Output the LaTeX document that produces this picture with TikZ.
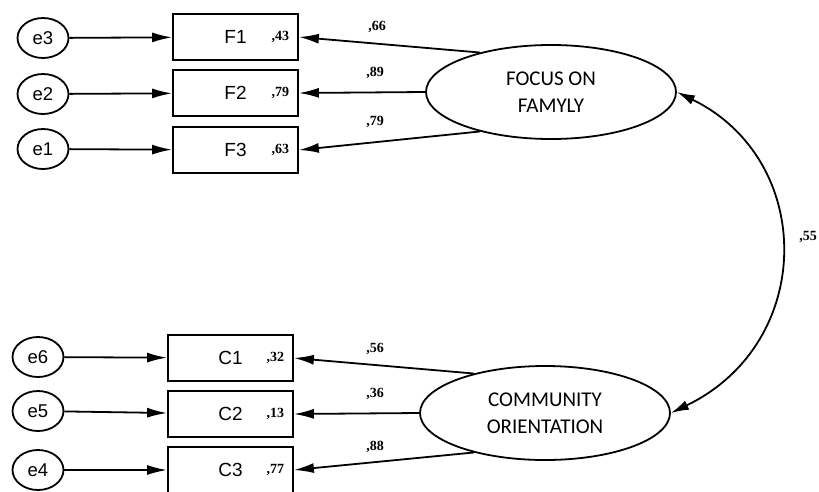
\documentclass[tikz,border=0pt]{standalone}
\usepackage{fontspec}
\usetikzlibrary{shapes.geometric,arrows.meta,calc}
\newfontfamily\arialf{Liberation Sans}
\newfontfamily\calibf{Carlito}
\newfontfamily\timesf{Liberation Serif}
\begin{document}
\begin{tikzpicture}[x=1pt,y=-1pt,line width=1.8pt,
  errnode/.style={draw,ellipse,minimum width=51pt,minimum height=40pt,inner sep=0pt,font=\arialf\fontsize{18.5}{20}\selectfont},
  obsbox/.style={draw,rectangle,minimum width=125pt,minimum height=46pt,inner sep=0pt,font=\arialf\fontsize{19}{21}\selectfont},
  latent/.style={draw,ellipse,minimum width=250pt,minimum height=94pt,inner sep=0pt,align=center,font=\calibf\fontsize{21}{27}\selectfont},
  rsq/.style={anchor=east,inner sep=0pt,font=\timesf\bfseries\fontsize{14}{16}\selectfont},
  load/.style={inner sep=0pt,font=\timesf\bfseries\fontsize{14}{16}\selectfont},
  arr/.style={-{Latex[length=20pt,width=10pt]}},
  darr/.style={{Latex[length=18pt,width=10pt]}-{Latex[length=18pt,width=10pt]}}
]
\useasboundingbox (0,0) rectangle (819,491);
\clip (0,0) rectangle (819,491);

% top group
\node[errnode] (e3) at (43,38) {e3};
\node[errnode] (e2) at (43,94) {e2};
\node[errnode] (e1) at (43,149) {e1};
\node[obsbox] (F1) at (235.5,37) {F1};
\node[obsbox] (F2) at (235.5,93) {F2};
\node[obsbox] (F3) at (235.5,150) {F3};
\node[rsq] (r1) at ($(F1.east)+(-9,0)$) {,43};
\node[rsq] (r2) at ($(F2.east)+(-9,0)$) {,79};
\node[rsq] (r3) at ($(F3.east)+(-9,0)$) {,63};
\node[latent] (FF) at (551,92) {FOCUS ON\\FAMYLY};

\draw[arr] (e3) -- (F1);
\draw[arr] (e2) -- (F2);
\draw[arr] (e1) -- (F3);
\draw[arr] (FF.151) -- (F1.east);
\draw[arr] (FF.west) -- (F2.east);
\draw[arr] (FF.209) -- (F3.east);
\node[load] (l1) at (377,27) {,66};
\node[load] (l2) at (375,73) {,89};
\node[load] (l3) at (375,122) {,79};

% bottom group
\node[errnode] (e6) at (38,357) {e6};
\node[errnode] (e5) at (38,411) {e5};
\node[errnode] (e4) at (38,470) {e4};
\node[obsbox] (C1) at (230.5,358) {C1};
\node[obsbox] (C2) at (230.5,414) {C2};
\node[obsbox] (C3) at (230.5,470) {C3};
\node[rsq] (r4) at ($(C1.east)+(-9,0)$) {,32};
\node[rsq] (r5) at ($(C2.east)+(-9,0)$) {,13};
\node[rsq] (r6) at ($(C3.east)+(-9,0)$) {,77};
\node[latent] (CO) at (545,413) {COMMUNITY\\ORIENTATION};

\draw[arr] (e6) -- (C1);
\draw[arr] (e5) -- (C2);
\draw[arr] (e4) -- (C3);
\draw[arr] (CO.151) -- (C1.east);
\draw[arr] (CO.west) -- (C2.east);
\draw[arr] (CO.209) -- (C3.east);
\node[load] (l4) at (375,349) {,56};
\node[load] (l5) at (375,394) {,36};
\node[load] (l6) at (375,447) {,88};

% covariance
\draw[darr] (FF.east) .. controls +(139,68) and +(145,-70) .. (CO.east);
\node[load] (cv) at (808,237) {,55};
\end{tikzpicture}
\end{document}
